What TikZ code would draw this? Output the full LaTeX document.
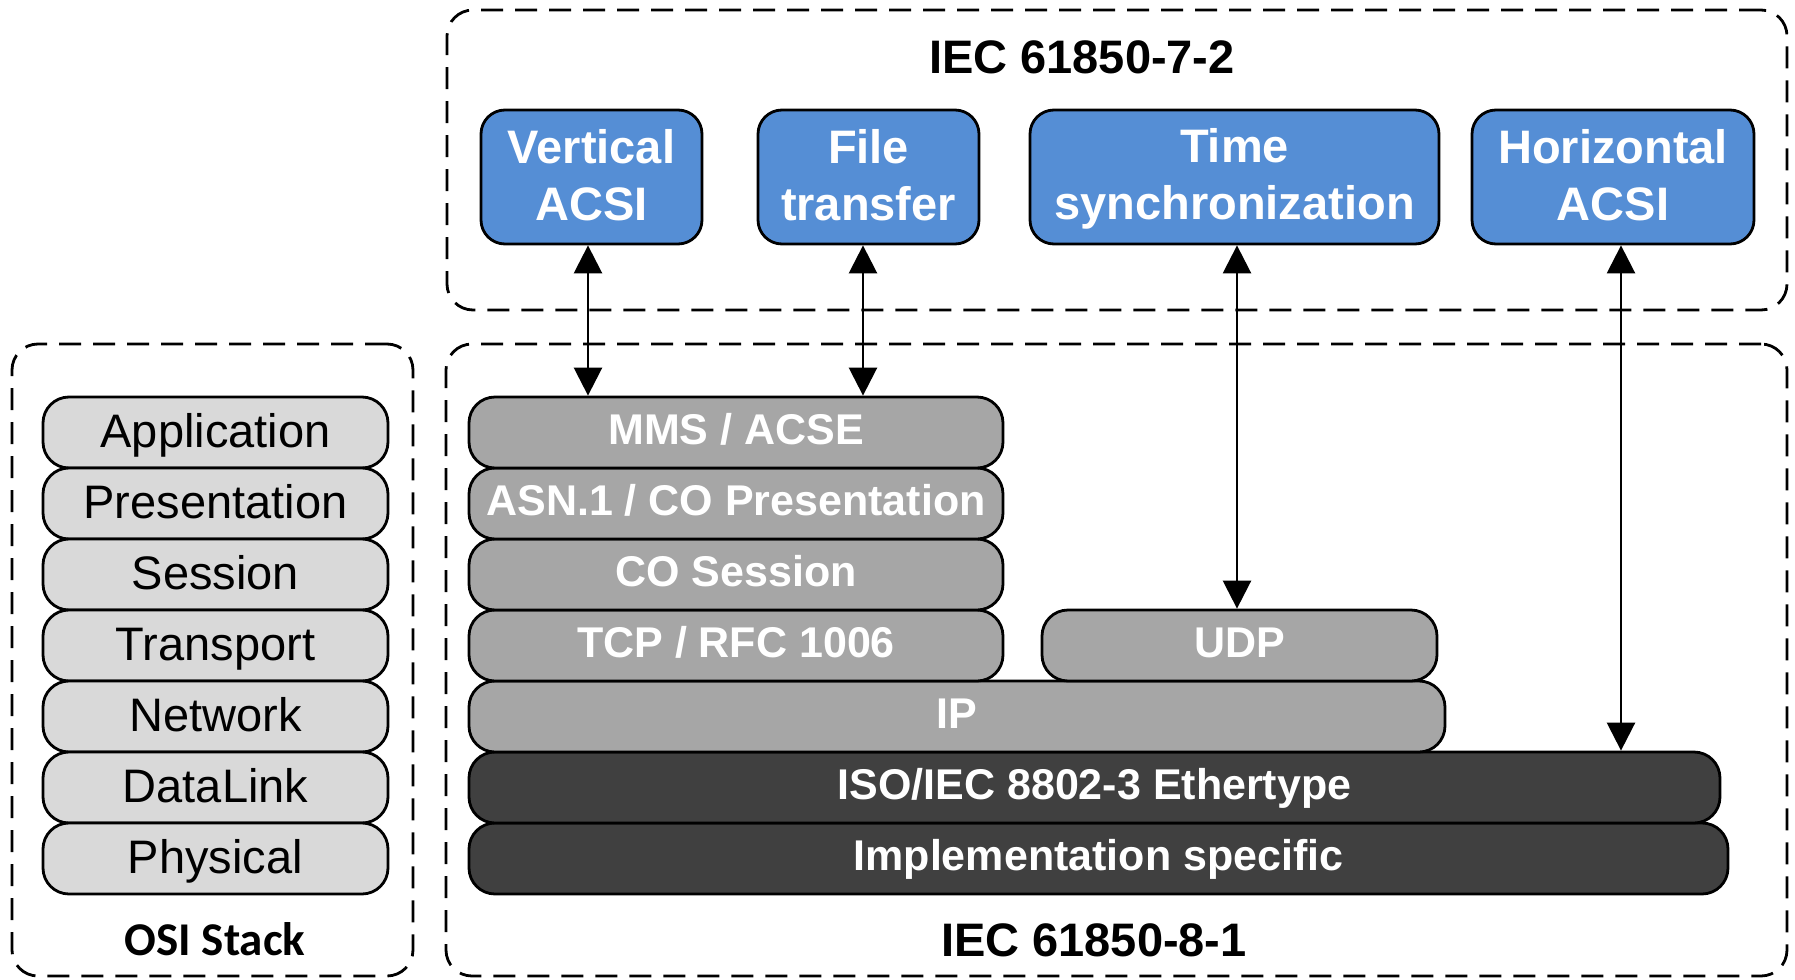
\documentclass[tikz,border=0pt]{standalone}
\usepackage{fontspec}
\setmainfont{Liberation Sans}
\newfontfamily\calibrifont{Carlito}
\usetikzlibrary{arrows.meta}
\definecolor{blueb}{HTML}{558ED5}
\definecolor{greyb}{HTML}{A6A6A6}
\definecolor{darkb}{HTML}{404040}
\definecolor{lightb}{HTML}{D9D9D9}
\newcommand\vs{\rule[-0.17em]{0pt}{0.97em}}
\begin{document}
\begin{tikzpicture}[x=0.5pt,y=-0.5pt,
 grp/.style={draw, line width=1.4pt, dash pattern=on 11pt off 6pt, rounded corners=13pt, inner sep=0pt},
 osilayer/.style={draw, line width=1.4pt, fill=lightb, rounded corners=13pt, inner sep=0pt, minimum width=172.5pt, minimum height=35.5pt, text height=18.8pt, text depth=4pt, font=\fontsize{23.5pt}{28pt}\selectfont},
 stk/.style={draw, line width=1.4pt, rounded corners=13pt, inner sep=0pt, minimum height=35.5pt, text height=16pt, text depth=4.1pt, text=white, font=\bfseries\fontsize{21.5pt}{26pt}\selectfont},
 gl/.style={stk, fill=greyb},
 dl/.style={stk, fill=darkb},
 svc/.style={draw, line width=1.4pt, fill=blueb, rounded corners=12pt, inner sep=0pt, minimum height=67pt, align=center, text=white, font=\bfseries\fontsize{23.5pt}{28.5pt}\selectfont},
 ttl/.style={inner sep=0pt, text height=18.8pt, text depth=4pt, font=\bfseries\fontsize{23.5pt}{28pt}\selectfont},
 arr/.style={line width=1.3pt, {Triangle[length=14pt,width=14pt]}-{Triangle[length=14pt,width=14pt]}}
]
\useasboundingbox (0,0) rectangle (1795,980);

% group frames
\node[grp, minimum width=670pt, minimum height=150pt] (g72) at (1117,160) {};
\node[grp, minimum width=670.5pt, minimum height=316pt] (g81) at (1116.5,660) {};
\node[grp, minimum width=200.5pt, minimum height=316pt] (gosi) at (212.5,660) {};

% titles
\node[ttl] (t72) at (1082,59) {IEC 61850-7-2};
\node[ttl] (t81) at (1094,942) {IEC 61850-8-1};
\node[ttl, font=\calibrifont\bfseries\fontsize{23.5pt}{28pt}\selectfont] (tosi) at (215,941) {OSI Stack};

% OSI layers
\node[osilayer] (l1) at (215.5,432.5) {Application};
\node[osilayer] (l2) at (215.5,503.5) {Presentation};
\node[osilayer] (l3) at (215.5,574.5) {Session};
\node[osilayer] (l4) at (215.5,645.5) {Transport};
\node[osilayer] (l5) at (215.5,716.5) {Network};
\node[osilayer] (l6) at (215.5,787.5) {DataLink};
\node[osilayer] (l7) at (215.5,858.5) {Physical};

% IEC 61850-8-1 stack
\node[dl, minimum width=629.5pt] (impl) at (1098.5,858.5) {Implementation specific};
\node[dl, minimum width=625.5pt] (eth) at (1094.5,787.5) {ISO/IEC 8802-3 Ethertype};
\node[gl, minimum width=488pt] (ip) at (957,716.5) {IP};
\node[gl, minimum width=197.5pt] (udp) at (1239.5,645.5) {UDP};
\node[gl, minimum width=267pt] (tcp) at (736,645.5) {TCP / RFC 1006};
\node[gl, minimum width=267pt] (ses) at (736,574.5) {CO Session};
\node[gl, minimum width=267pt] (pres) at (736,503.5) {ASN.1 / CO Presentation};
\node[gl, minimum width=267pt] (mms) at (736,432.5) {MMS / ACSE};

% services
\node[svc, minimum width=110.5pt] (va) at (591.5,177) {Vertical\vs\\ACSI\vs};
\node[svc, minimum width=110.5pt] (ft) at (868.5,177) {File\vs\\transfer\vs};
\node[svc, minimum width=204.5pt] (ts) at (1234.5,177) {Time\vs\\synchronization\vs};
\node[svc, minimum width=141pt] (ha) at (1613,177) {Horizontal\vs\\ACSI\vs};

% connectors
\draw[arr] ([xshift=-1.75pt]va.south) -- ([xshift=-1.75pt]va.south |- mms.north);
\draw[arr] ([xshift=-2.75pt]ft.south) -- ([xshift=-2.75pt]ft.south |- mms.north);
\draw[arr] ([xshift=1.25pt]ts.south) -- ([xshift=1.25pt]ts.south |- udp.north);
\draw[arr] ([xshift=4pt]ha.south) -- ([xshift=4pt]ha.south |- eth.north);
\end{tikzpicture}
\end{document}
